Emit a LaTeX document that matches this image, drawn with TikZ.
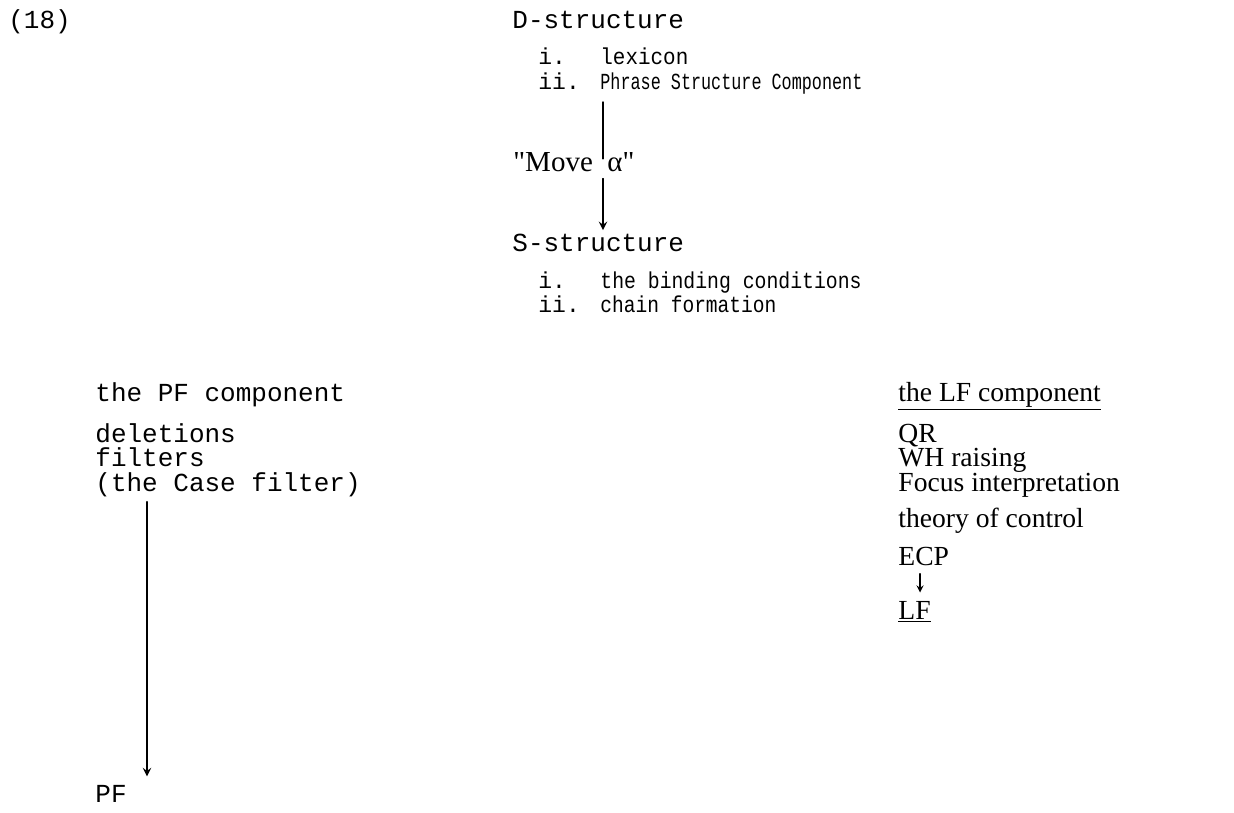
\documentclass[tikz,border=0pt]{standalone}
\usepackage{fontspec}
\usepackage{graphicx}
\setmainfont{Liberation Mono}
\newfontfamily\propfont{Liberation Serif}
\tikzset{
  txt/.style={anchor=base west,inner sep=0pt,font=\fontsize{13}{15}\selectfont},
  subtxt/.style={anchor=base west,inner sep=0pt,font=\fontsize{11.5}{13}\selectfont},
  lftxt/.style={anchor=base west,inner sep=0pt,font=\propfont\fontsize{13.8}{16}\selectfont},
  conn/.style={line width=0.9pt},
}
\begin{document}
\begin{tikzpicture}[x=0.5pt,y=-0.5pt,line cap=round]
  \useasboundingbox (0,0) rectangle (1234,812);
  \node[txt] (num) at (8,29) {(18)};
  \node[txt] (dstruct) at (512,29) {D-structure};
  \node[subtxt] (di) at (538,65) {i.};
  \node[subtxt] (lexicon) at (600,65) {\scalebox{0.91}[1]{lexicon}};
  \node[subtxt] (dii) at (538,90) {ii.};
  \node[subtxt] (psc) at (600,90) {\scalebox{0.73}[1]{Phrase Structure Component}};
  \node[txt,font=\propfont\fontsize{14.5}{16}\selectfont] (move) at (513,172) {"Move\hspace{0.5em}α"};
  \node[txt] (sstruct) at (512,252) {S-structure};
  \node[subtxt] (si) at (538,288) {i.};
  \node[subtxt] (binding) at (600,288) {\scalebox{0.86}[1]{the binding conditions}};
  \node[subtxt] (sii) at (538,313) {ii.};
  \node[subtxt] (chain) at (600,313) {\scalebox{0.85}[1]{chain formation}};
  \node[txt] (pfcomp) at (95,401) {the PF component};
  \node[txt] (deletions) at (95,442) {deletions};
  \node[txt] (filters) at (95,466) {filters};
  \node[txt] (casefilter) at (95,491) {(the Case filter)};
  \node[txt] (pf) at (95,802) {PF};
  \node[lftxt] (lfcomp) at (898,401) {\underline{the LF component}};
  \node[lftxt] (qr) at (898,442) {QR};
  \node[lftxt] (wh) at (898,466) {WH raising};
  \node[lftxt] (focus) at (898,491) {Focus interpretation};
  \node[lftxt] (control) at (898,527) {theory of control};
  \node[lftxt] (ecp) at (898,565) {ECP};
  \node[lftxt] (lf) at (898,619) {\underline{LF}};
  \coordinate (maxis) at (603,0);
  \coordinate (pfaxis) at (147,0);
  \coordinate (lfaxis) at (920,0);
  \draw[conn] ([yshift=-3.5]psc.south -| maxis) -- ([yshift=-3]move.north -| maxis);
  \draw[conn,->,>=stealth] ([yshift=-3]move.south -| maxis) -- ([yshift=2]sstruct.north -| maxis);
  \draw[conn,->,>=stealth] ([yshift=-2.5]casefilter.south -| pfaxis) -- ([yshift=4]pf.north -| pfaxis);
  \draw[line width=0.6pt,->,>=stealth] ([yshift=-4]ecp.south -| lfaxis) -- ([yshift=4]lf.north -| lfaxis);
\end{tikzpicture}
\end{document}
